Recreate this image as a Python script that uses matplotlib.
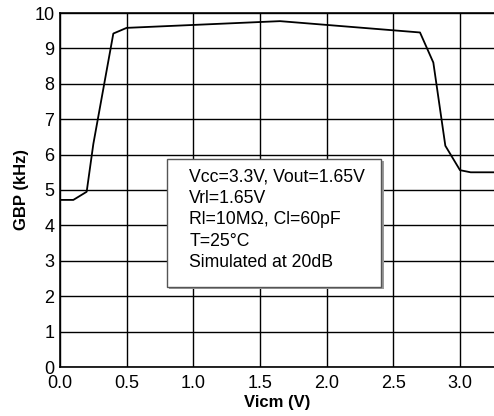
import matplotlib
matplotlib.use("Agg")
import matplotlib.pyplot as plt

plt.rcParams['font.family'] = ['Liberation Sans', 'DejaVu Sans']

# common-mode input voltage sweep vs gain-bandwidth product
vicm = [0.0, 0.1, 0.2, 0.25, 0.4, 0.5, 1.65, 2.7, 2.8, 2.89, 3.0, 3.08, 3.3]
gbp_khz = [4.72, 4.72, 4.95, 6.3, 9.42, 9.58, 9.77, 9.45, 8.6, 6.25, 5.56, 5.5, 5.5]

xticks = [0.0, 0.5, 1.0, 1.5, 2.0, 2.5, 3.0]
yticks = list(range(0, 11))
note = ["Vcc=3.3V, Vout=1.65V", "Vrl=1.65V", "Rl=10M\u03a9, Cl=60pF",
        "T=25\u00b0C", "Simulated at 20dB"]

W, H = 494, 416
fig = plt.figure(figsize=(W / 100, H / 100), dpi=100)
ax = fig.add_axes([60 / W, (H - 367) / H, (W - 60) / W, (367 - 13) / H])

ax.plot(vicm, gbp_khz, color='black', lw=1.3, zorder=3)

ax.set_xlim(0, 3.255)
ax.set_ylim(0, 10)
ax.set_xticks(xticks)
ax.set_xticklabels([f"{t:.1f}" for t in xticks])
ax.set_yticks(yticks)
ax.tick_params(length=0, labelsize=13)
ax.tick_params(axis='x', pad=6)
ax.tick_params(axis='y', pad=4)
ax.grid(True, color='black', lw=1.0)
ax.spines['right'].set_visible(False)
for s in ['left', 'bottom', 'top']:
    ax.spines[s].set_linewidth(1.2)

ax.set_xlabel("Vicm (V)", fontsize=12, fontweight='bold', labelpad=2)
ax.set_ylabel("GBP (kHz)", fontsize=12, fontweight='bold', labelpad=4)

# condition box with a drop shadow
x0, y0, x1, y1 = 0.8, 2.27, 2.41, 5.88
shadow = plt.Rectangle((x0 + 0.02, y0 - 0.07), x1 - x0, y1 - y0,
                       facecolor='#9a9a9a', edgecolor='none', zorder=4)
box = plt.Rectangle((x0, y0), x1 - x0, y1 - y0,
                    facecolor='white', edgecolor='#555555', lw=1.0, zorder=5)
ax.add_patch(shadow)
ax.add_patch(box)
for i, line in enumerate(note):
    ax.text(0.97, 5.38 - i * 0.61, line, fontsize=12.7, va='center',
            ha='left', zorder=6)

fig.savefig("out.png", dpi=100)
